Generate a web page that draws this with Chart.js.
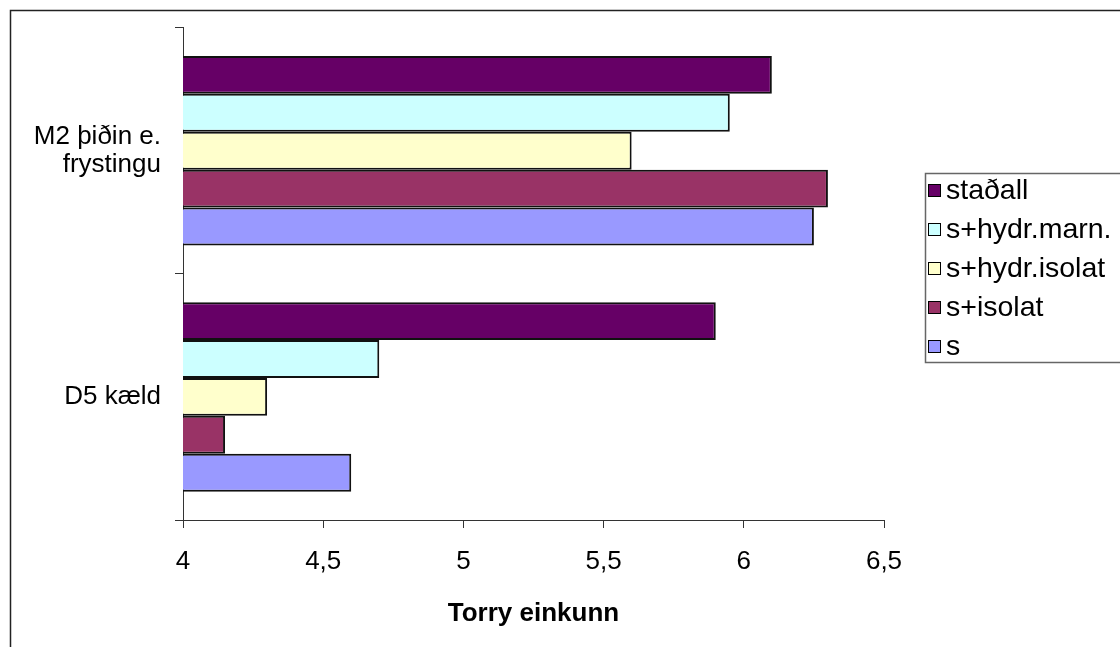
<!DOCTYPE html>
<html>
<head>
<meta charset="utf-8">
<script src="https://cdn.jsdelivr.net/npm/chart.js@4.4.1/dist/chart.umd.min.js"></script>
<style>
  html, body { margin: 0; padding: 0; background: #ffffff; }
  #wrap { width: 1120px; height: 647px; }
</style>
</head>
<body>
<div id="wrap"><canvas id="c" width="1120" height="647"></canvas></div>
<script>
// ---- data ----
const categories = [["M2 þiðin e.", "frystingu"], "D5 kæld"];
const seriesNames = ["staðall", "s+hydr.marn.", "s+hydr.isolat", "s+isolat", "s"];
const stadall     = [6.10, 5.90];
const hydrMarn    = [5.95, 4.70];
const hydrIsolat  = [5.60, 4.30];
const isolat      = [6.30, 4.15];
const sOnly       = [6.25, 4.60];
const xTickLabels = ["4", "4,5", "5", "5,5", "6", "6,5"];
const xAxisTitle  = "Torry einkunn";

const seriesValues = [stadall, hydrMarn, hydrIsolat, isolat, sOnly];
const seriesColors = ["#660066", "#CCFFFF", "#FFFFCC", "#993366", "#9999FF"];

const FONT = "'Liberation Sans', Arial, sans-serif";

const frame = {
  id: 'frame',
  beforeDraw(chart) {
    const ctx = chart.ctx;
    ctx.save();
    ctx.fillStyle = '#ffffff';
    ctx.fillRect(0, 0, chart.width, chart.height);
    ctx.strokeStyle = '#222222';
    ctx.lineWidth = 1.5;
    ctx.strokeRect(10.5, 10.5, 1200, 700);
    ctx.restore();
  }
};

const boxLegend = {
  id: 'boxLegend',
  afterDraw(chart) {
    const ctx = chart.ctx;
    ctx.save();
    ctx.strokeStyle = '#666666';
    ctx.lineWidth = 1.5;
    ctx.strokeRect(925.5, 173.5, 300, 189);
    ctx.font = "28.5px " + FONT;
    ctx.textBaseline = 'middle';
    ctx.textAlign = 'left';
    chart.data.datasets.forEach((ds, i) => {
      const cy = 190 + i * 39;
      ctx.fillStyle = ds.backgroundColor;
      ctx.fillRect(928, cy - 6, 12, 12);
      ctx.strokeStyle = '#000000';
      ctx.lineWidth = 1;
      ctx.strokeRect(928.5, cy - 5.5, 12, 12);
      ctx.fillStyle = '#000000';
      ctx.fillText(ds.label, 946, cy + 1);
    });
    ctx.restore();
  }
};

new Chart(document.getElementById('c'), {
  type: 'bar',
  data: {
    labels: categories,
    datasets: seriesNames.map((name, i) => ({
      label: name,
      data: seriesValues[i],
      backgroundColor: seriesColors[i],
      borderColor: '#111111',
      borderWidth: 2,
      borderSkipped: false,
      categoryPercentage: 0.77,
      barPercentage: 1.0
    }))
  },
  options: {
    indexAxis: 'y',
    responsive: false,
    animation: false,
    layout: { padding: { left: 0, top: 27, right: 236, bottom: 0 } },
    plugins: {
      legend: { display: false },
      tooltip: { enabled: false }
    },
    scales: {
      x: {
        type: 'linear',
        min: 4, max: 6.5,
        afterFit(scale) { scale.height = 127; },
        grid: { drawOnChartArea: false, drawTicks: true, tickLength: 8, color: '#333333' },
        border: { display: true, color: '#333333', width: 1 },
        ticks: {
          stepSize: 0.5,
          padding: 18,
          color: '#000000',
          font: { family: FONT, size: 26 },
          callback: (v, idx) => xTickLabels[idx]
        },
        title: {
          display: true,
          text: xAxisTitle,
          color: '#000000',
          font: { family: FONT, size: 26, weight: 'bold' },
          padding: { top: 0, bottom: 18 }
        }
      },
      y: {
        type: 'category',
        offset: true,
        afterFit(scale) { scale.width = 183; },
        grid: { offset: true, drawOnChartArea: false, drawTicks: true, tickLength: 8, color: '#333333' },
        border: { display: true, color: '#333333', width: 1 },
        ticks: {
          padding: 14,
          color: '#000000',
          font: { family: FONT, size: 26, lineHeight: 1.05 }
        }
      }
    }
  },
  plugins: [frame, boxLegend]
});
</script>
</body>
</html>
